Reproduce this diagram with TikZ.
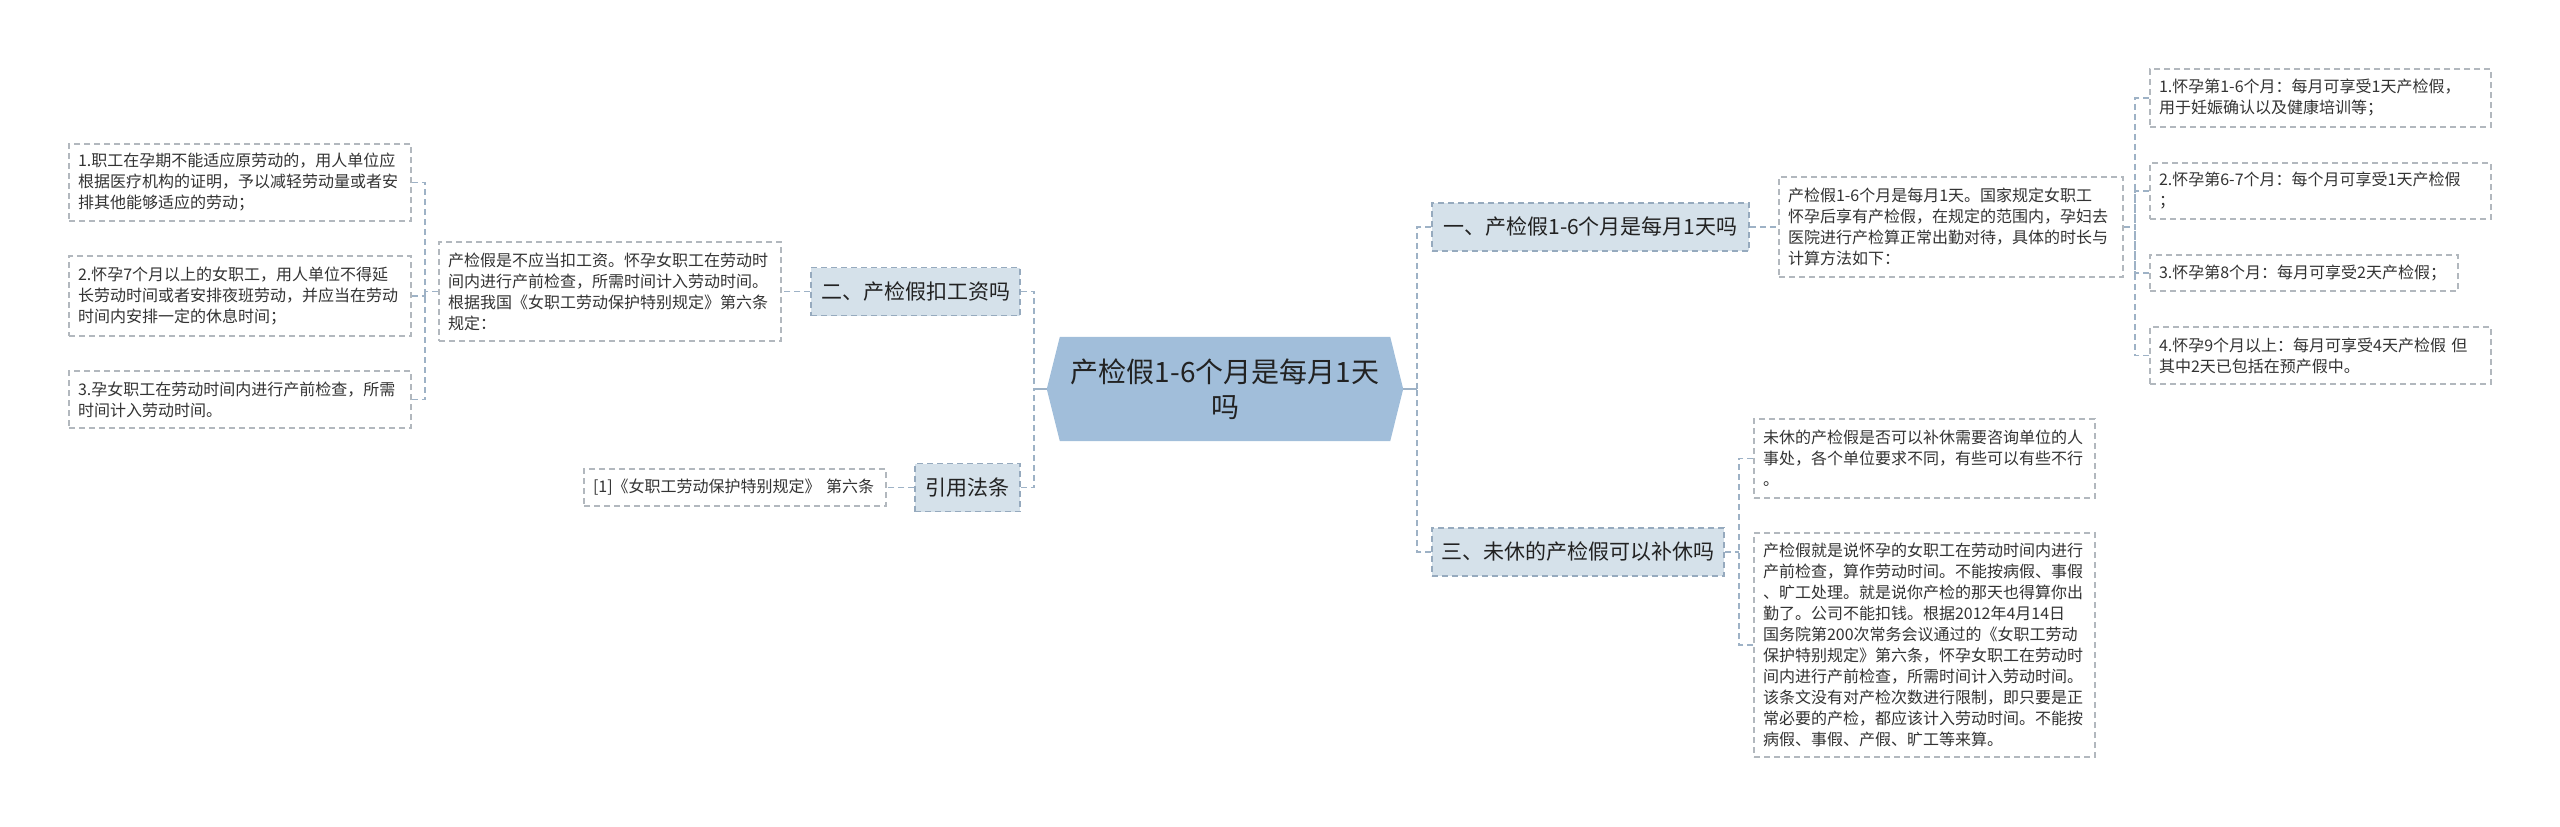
\documentclass[tikz,border=0pt]{standalone}
\usepackage{fontspec}
\setmainfont{Noto Sans CJK SC}
\usetikzlibrary{backgrounds}
\definecolor{connc}{RGB}{158,178,198}
\definecolor{leafline}{RGB}{178,184,190}
\definecolor{branchline}{RGB}{150,170,190}
\definecolor{branchfill}{RGB}{213,225,234}
\definecolor{centerfill}{RGB}{161,190,218}
\definecolor{txtgray}{RGB}{51,51,51}
\definecolor{txtdark}{RGB}{34,34,34}
\tikzset{
  dashline/.style={dash pattern=on 6pt off 4pt, line width=1.5pt},
  leafbox/.style={draw=leafline, dashline, fill=white, text=txtgray,
    font=\fontsize{16}{21}\selectfont, align=left, inner xsep=9pt, inner ysep=0pt},
  branchbox/.style={draw=branchline, dashline, fill=branchfill, text=txtdark,
    font=\fontsize{21}{26}\selectfont, inner sep=0pt, minimum height=48pt},
  centerbox/.style={text=txtdark, font=\fontsize{28}{35}\selectfont, align=center,
    inner sep=0pt, minimum width=356pt, minimum height=104pt},
  connector/.style={draw=connc, dashline},
  stub/.style={draw=connc, line width=2pt}
}
\begin{document}
\begin{tikzpicture}[x=1pt,y=-1pt]
\useasboundingbox (0,0) rectangle (2560,827);

% center
\node[centerbox] (C) at (1225,389) {产检假1-6个月是每月1天\\吗};
\begin{scope}[on background layer]
\fill[centerfill] ([xshift=13pt]C.north west) -- ([xshift=-13pt]C.north east) -- (C.east)
  -- ([xshift=-13pt]C.south east) -- ([xshift=13pt]C.south west) -- (C.west) -- cycle;
\end{scope}

% branches
\node[branchbox, minimum width=317pt] (B1) at (1590.5,227) {一、产检假1-6个月是每月1天吗};
\node[branchbox, minimum width=209pt] (B2) at (915.5,291.5) {二、产检假扣工资吗};
\node[branchbox, minimum width=292pt] (B3) at (1578,552) {三、未休的产检假可以补休吗};
\node[branchbox, minimum width=105pt] (B4) at (967.5,487.5) {引用法条};

% right side, branch 1
\node[leafbox, text width=326pt, minimum height=100pt] (P1) at (1951,227)
  {产检假1-6个月是每月1天。国家规定女职工\\怀孕后享有产检假，在规定的范围内，孕妇去\\医院进行产检算正常出勤对待，具体的时长与\\计算方法如下：};
\node[leafbox, text width=323pt, minimum height=58pt] (R1) at (2320.5,98)
  {1.怀孕第1-6个月：每月可享受1天产检假，\\用于妊娠确认以及健康培训等；};
\node[leafbox, text width=323pt, minimum height=56pt] (R2) at (2320.5,191)
  {2.怀孕第6-7个月：每个月可享受1天产检假\\；};
\node[leafbox, text width=290pt, minimum height=36pt] (R3) at (2304,273)
  {3.怀孕第8个月：每月可享受2天产检假；};
\node[leafbox, text width=323pt, minimum height=57pt] (R4) at (2320.5,355.5)
  {4.怀孕9个月以上：每月可享受4天产检假 但\\其中2天已包括在预产假中。};

% right side, branch 3
\node[leafbox, text width=323pt, minimum height=79pt] (P3a) at (1924.5,458.5)
  {未休的产检假是否可以补休需要咨询单位的人\\事处，各个单位要求不同，有些可以有些不行\\。};
\node[leafbox, text width=323pt, minimum height=224pt] (P3b) at (1924.5,645)
  {产检假就是说怀孕的女职工在劳动时间内进行\\产前检查，算作劳动时间。不能按病假、事假\\、旷工处理。就是说你产检的那天也得算你出\\勤了。公司不能扣钱。根据2012年4月14日\\国务院第200次常务会议通过的《女职工劳动\\保护特别规定》第六条，怀孕女职工在劳动时\\间内进行产前检查，所需时间计入劳动时间。\\该条文没有对产检次数进行限制，即只要是正\\常必要的产检，都应该计入劳动时间。不能按\\病假、事假、产假、旷工等来算。};

% left side, branch 2
\node[leafbox, text width=324pt, minimum height=99pt] (P2) at (610,291.5)
  {产检假是不应当扣工资。怀孕女职工在劳动时\\间内进行产前检查，所需时间计入劳动时间。\\根据我国《女职工劳动保护特别规定》第六条\\规定：};
\node[leafbox, text width=324pt, minimum height=77pt] (L1) at (240,182.5)
  {1.职工在孕期不能适应原劳动的，用人单位应\\根据医疗机构的证明，予以减轻劳动量或者安\\排其他能够适应的劳动；};
\node[leafbox, text width=324pt, minimum height=80pt] (L2) at (240,296)
  {2.怀孕7个月以上的女职工，用人单位不得延\\长劳动时间或者安排夜班劳动，并应当在劳动\\时间内安排一定的休息时间；};
\node[leafbox, text width=324pt, minimum height=57pt] (L3) at (240,399.5)
  {3.孕女职工在劳动时间内进行产前检查，所需\\时间计入劳动时间。};

% left side, reference
\node[leafbox, text width=284pt, minimum height=37pt] (Ref) at (735,487.5)
  {[1]《女职工劳动保护特别规定》 第六条};

% junction coordinates
\coordinate (jl) at (1034,389);
\coordinate (jr) at (1417,389);
\coordinate (j1) at (2135,227);
\coordinate (j3) at (1739,552);
\coordinate (j2) at (425,291.5);

% connectors
\begin{scope}[on background layer]
\draw[stub] (C.west) -- (jl);
\draw[stub] (C.east) -- (jr);
\draw[connector] (B2.east) -| (jl);
\draw[connector] (B4.east) -| (jl);
\draw[connector] (B1.west) -| (jr);
\draw[connector] (B3.west) -| (jr);
\draw[connector] (B1.east) -- (P1.west);
\draw[connector] (P1.east) -- (j1);
\draw[connector] (R1.west) -| (j1);
\draw[connector] (R2.west) -| (j1);
\draw[connector] (R3.west) -| (j1);
\draw[connector] (R4.west) -| (j1);
\draw[connector] (B3.east) -- (j3);
\draw[connector] (P3a.west) -| (j3);
\draw[connector] (P3b.west) -| (j3);
\draw[connector] (B2.west) -- (P2.east);
\draw[connector] (P2.west) -- (j2);
\draw[connector] (L1.east) -| (j2);
\draw[connector] (L2.east) -| (j2);
\draw[connector] (L3.east) -| (j2);
\draw[connector] (B4.west) -- (Ref.east);
\end{scope}
\end{tikzpicture}
\end{document}
